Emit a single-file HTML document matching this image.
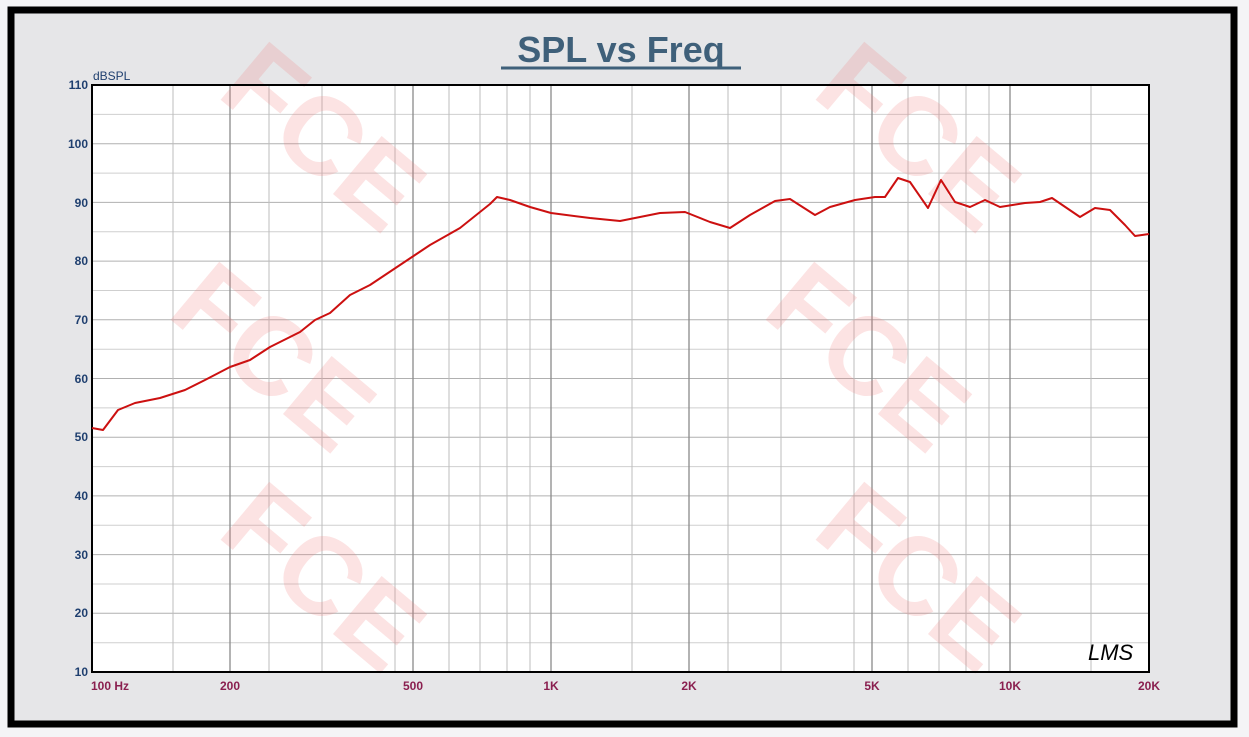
<!DOCTYPE html>
<html><head><meta charset="utf-8"><style>
html,body{margin:0;padding:0;background:#fff;}
svg{display:block;}
</style></head><body>
<svg width="1249" height="737" viewBox="0 0 1249 737" xmlns="http://www.w3.org/2000/svg" font-family="Liberation Sans, sans-serif">
<rect x="0" y="0" width="1249" height="737" fill="#f4f4f6"/>
<rect x="11" y="10" width="1223" height="714" fill="#e6e6e8" stroke="#000" stroke-width="7"/>
<text x="621" y="62" text-anchor="middle" font-size="36" font-weight="bold" fill="#3f607a">SPL vs Freq</text>
<line x1="501" y1="68" x2="741" y2="68" stroke="#3f607a" stroke-width="3"/>
<rect x="92" y="85" width="1057" height="587" fill="#fff"/>
<g stroke="#cfcfcf" stroke-width="1">
<line x1="92" y1="114.4" x2="1149" y2="114.4"/><line x1="92" y1="173.1" x2="1149" y2="173.1"/>
<line x1="92" y1="231.8" x2="1149" y2="231.8"/><line x1="92" y1="290.5" x2="1149" y2="290.5"/>
<line x1="92" y1="349.2" x2="1149" y2="349.2"/><line x1="92" y1="407.9" x2="1149" y2="407.9"/>
<line x1="92" y1="466.6" x2="1149" y2="466.6"/><line x1="92" y1="525.3" x2="1149" y2="525.3"/>
<line x1="92" y1="584" x2="1149" y2="584"/><line x1="92" y1="642.7" x2="1149" y2="642.7"/>
</g>
<g stroke="#b0b0b0" stroke-width="1">
<line x1="92" y1="143.7" x2="1149" y2="143.7"/><line x1="92" y1="202.4" x2="1149" y2="202.4"/>
<line x1="92" y1="261.1" x2="1149" y2="261.1"/><line x1="92" y1="319.8" x2="1149" y2="319.8"/>
<line x1="92" y1="378.5" x2="1149" y2="378.5"/><line x1="92" y1="437.2" x2="1149" y2="437.2"/>
<line x1="92" y1="495.9" x2="1149" y2="495.9"/><line x1="92" y1="554.6" x2="1149" y2="554.6"/>
<line x1="92" y1="613.3" x2="1149" y2="613.3"/>
</g>
<g stroke="#bdbdbd" stroke-width="1">
<line x1="173" y1="85" x2="173" y2="672"/><line x1="269" y1="85" x2="269" y2="672"/>
<line x1="322" y1="85" x2="322" y2="672"/><line x1="395" y1="85" x2="395" y2="672"/>
<line x1="449" y1="85" x2="449" y2="672"/><line x1="480" y1="85" x2="480" y2="672"/>
<line x1="507" y1="85" x2="507" y2="672"/><line x1="530" y1="85" x2="530" y2="672"/>
<line x1="632" y1="85" x2="632" y2="672"/><line x1="728" y1="85" x2="728" y2="672"/>
<line x1="781" y1="85" x2="781" y2="672"/><line x1="854" y1="85" x2="854" y2="672"/>
<line x1="908" y1="85" x2="908" y2="672"/><line x1="939" y1="85" x2="939" y2="672"/>
<line x1="966" y1="85" x2="966" y2="672"/><line x1="989" y1="85" x2="989" y2="672"/>
<line x1="1091" y1="85" x2="1091" y2="672"/>
</g>
<g stroke="#8a8a8a" stroke-width="1.3">
<line x1="230" y1="85" x2="230" y2="672"/><line x1="413" y1="85" x2="413" y2="672"/>
<line x1="551" y1="85" x2="551" y2="672"/><line x1="689" y1="85" x2="689" y2="672"/>
<line x1="872" y1="85" x2="872" y2="672"/><line x1="1010" y1="85" x2="1010" y2="672"/>
</g>
<!-- watermarks -->
<g fill="#f08080" font-weight="bold" font-size="110" opacity="0.22">
<text transform="translate(215,95) rotate(40)">FCE</text>
<text transform="translate(810,95) rotate(40)">FCE</text>
<text transform="translate(165,315) rotate(40)">FCE</text>
<text transform="translate(760,315) rotate(40)">FCE</text>
<text transform="translate(215,535) rotate(40)">FCE</text>
<text transform="translate(810,535) rotate(40)">FCE</text>
</g>
<rect x="92" y="85" width="1057" height="587" fill="none" stroke="#000" stroke-width="2"/>
<polyline fill="none" stroke="#cc1010" stroke-width="2" stroke-linejoin="round" points="92,428 103,430 118,410 135,403 160,398 185,390 205,380 230,367 250,360 270,347 300,332 315,320 330,313 350,295 370,285 400,265 430,245 460,228 490,204 497,197 510,200 530,207 551,213 590,218 620,221 660,213 685,212 710,222 730,228 750,215 775,201 790,199 815,215 830,207 855,200 875,197 885,197 898,178 910,182 928,208 941,180 955,202 970,207 985,200 1000,207 1025,203 1040,202 1052,198 1080,217 1095,208 1110,210 1125,225 1135,236 1149,234"/>
<g font-size="12" font-weight="bold" fill="#1f3f6f" text-anchor="end">
<text x="88" y="89">110</text><text x="88" y="148">100</text><text x="88" y="207">90</text>
<text x="88" y="265">80</text><text x="88" y="324">70</text><text x="88" y="383">60</text>
<text x="88" y="441">50</text><text x="88" y="500">40</text><text x="88" y="559">30</text>
<text x="88" y="617">20</text><text x="88" y="676">10</text>
</g>
<text x="93" y="80" font-size="12" fill="#1f3f6f">dBSPL</text>
<g font-size="12" font-weight="bold" fill="#8a1f4f" text-anchor="middle">
<text x="110" y="690">100  Hz</text><text x="230" y="690">200</text><text x="413" y="690">500</text>
<text x="551" y="690">1K</text><text x="689" y="690">2K</text><text x="872" y="690">5K</text>
<text x="1010" y="690">10K</text><text x="1149" y="690">20K</text>
</g>
<text x="1088" y="660" font-size="22" font-style="italic" fill="#000">LMS</text>
</svg>
</body></html>
